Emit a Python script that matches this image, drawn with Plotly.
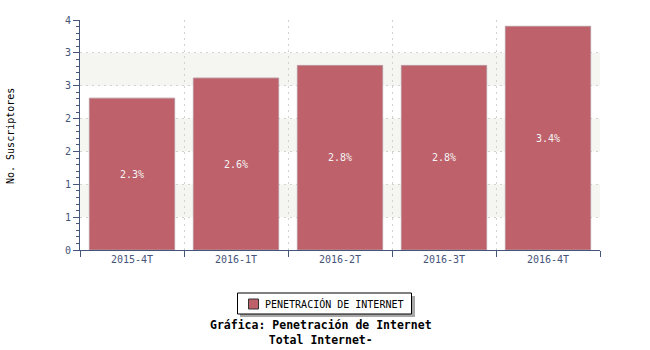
import plotly.graph_objects as go

categories = ["2015-4T", "2016-1T", "2016-2T", "2016-3T", "2016-4T"]
subscribers = [2.64, 2.99, 3.21, 3.21, 3.89]
penetration_labels = ["2.3%", "2.6%", "2.8%", "2.8%", "3.4%"]
y_tick_labels = ["0", "1", "1", "2", "2", "3", "3", "4"]
y_max = 4.0
series_name = "PENETRACIÓN DE INTERNET"

n_steps = len(y_tick_labels) - 1
y_tick_vals = [i * y_max / n_steps for i in range(len(y_tick_labels))]

MONO = "DejaVu Sans Mono"
AXIS_COLOR = "#46557a"
BAR_COLOR = "#be616b"
GRID_COLOR = "#d2d2d2"

# pixel -> paper helpers (plot area: x 80..600, y 20..250)
def px(x):
    return (x - 80) / 520

def py(y):
    return (250 - y) / 230

fig = go.Figure()
fig.add_trace(go.Bar(
    x=categories,
    y=subscribers,
    text=penetration_labels,
    textposition="inside",
    insidetextanchor="middle",
    textfont=dict(family=MONO, size=10, color="#f4f4f4"),
    marker=dict(color=BAR_COLOR, line=dict(color="#b9939a", width=1)),
    width=0.82,
    name=series_name,
    showlegend=False,
))

shapes = []
# alternating background bands
for i in range(n_steps):
    if i % 2 == 1:
        shapes.append(dict(type="rect", xref="paper", yref="y", x0=0, x1=1,
                           y0=y_tick_vals[i], y1=y_tick_vals[i + 1],
                           fillcolor="#f5f5f1", line=dict(width=0), layer="below"))
# legend: shadow, box, key
shapes.append(dict(type="rect", xref="paper", yref="paper",
                   x0=px(240), x1=px(415), y0=py(317), y1=py(296),
                   fillcolor="#a8a8a8", line=dict(width=0), layer="above"))
shapes.append(dict(type="rect", xref="paper", yref="paper",
                   x0=px(237.5), x1=px(411.5), y0=py(314), y1=py(293),
                   fillcolor="white", line=dict(color="black", width=1), layer="above"))
shapes.append(dict(type="rect", xref="paper", yref="paper",
                   x0=px(248.5), x1=px(258.5), y0=py(309), y1=py(299),
                   fillcolor=BAR_COLOR, line=dict(color="#333333", width=1), layer="above"))

fig.update_layout(
    width=650, height=350,
    margin=dict(l=80, r=50, t=20, b=100),
    paper_bgcolor="white",
    plot_bgcolor="white",
    font=dict(family=MONO, size=10, color=AXIS_COLOR),
    bargap=0.18,
    shapes=shapes,
    showlegend=False,
    annotations=[
        dict(text=series_name,
             xref="paper", yref="paper", x=px(263), y=py(303.5),
             xanchor="left", yanchor="middle", showarrow=False,
             font=dict(family=MONO, size=10, color="black")),
        dict(text="<b>Gráfica: Penetración de Internet</b><br><b>Total Internet-</b>",
             xref="paper", yref="paper", x=px(321), y=py(316),
             xanchor="center", yanchor="top", showarrow=False,
             font=dict(family=MONO, size=11.5, color="black")),
        dict(text="No. Suscriptores", textangle=-90,
             xref="paper", yref="paper", x=px(10), y=py(136),
             xanchor="center", yanchor="middle", showarrow=False,
             font=dict(family=MONO, size=10, color="black")),
    ],
)

fig.update_xaxes(
    type="category",
    showline=True, linecolor=AXIS_COLOR, linewidth=1,
    ticks="outside", ticklen=6, tickcolor=AXIS_COLOR,
    tickson="boundaries",
    showgrid=True, gridcolor=GRID_COLOR, griddash="2px,4px", gridwidth=1,
    tickfont=dict(family=MONO, size=10, color=AXIS_COLOR),
    range=[-0.5, len(categories) - 0.5],
    zeroline=False,
)
fig.update_yaxes(
    range=[0, y_max],
    tickvals=y_tick_vals, ticktext=y_tick_labels,
    showline=True, linecolor=AXIS_COLOR, linewidth=1,
    ticks="outside", ticklen=6, tickcolor=AXIS_COLOR,
    minor=dict(dtick=y_max / n_steps / 5, ticks="outside", ticklen=3,
               tickcolor=AXIS_COLOR, showgrid=False),
    showgrid=True, gridcolor=GRID_COLOR, griddash="2px,4px", gridwidth=1,
    tickfont=dict(family=MONO, size=10, color=AXIS_COLOR),
    zeroline=False,
)

fig.write_html("out.html")
